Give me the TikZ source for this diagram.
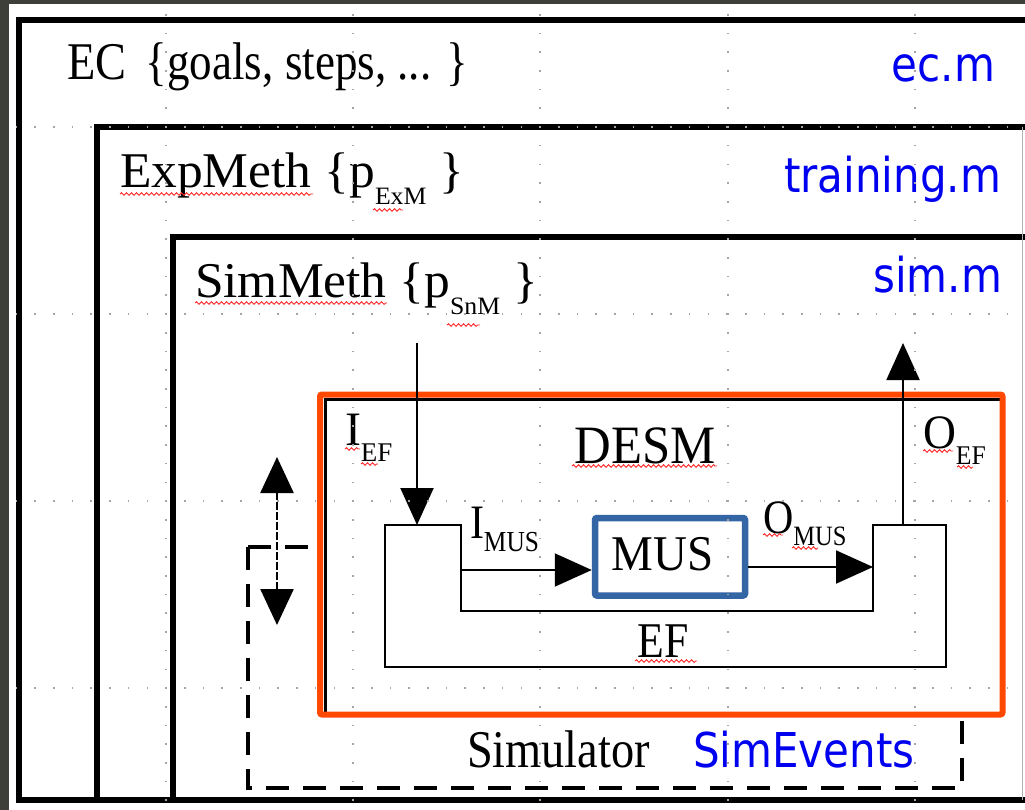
\documentclass[tikz,border=0pt]{standalone}
\usepackage{fontspec}
\setmainfont{Liberation Serif}
\newfontfamily\dv{DejaVu Sans}
\usetikzlibrary{arrows.meta,decorations.pathmorphing}
\definecolor{bgdark}{RGB}{62,63,56}
\definecolor{desmorange}{RGB}{255,72,0}
\definecolor{musblue}{RGB}{52,101,164}
\definecolor{griddot}{RGB}{165,165,165}
\definecolor{txtblue}{RGB}{0,0,240}
\newcommand{\hs}[1]{\scalebox{0.875}[1]{#1}}
\newcommand{\hsx}[2]{\scalebox{#1}[1]{#2}}
\newcommand{\fs}[1]{\fontsize{#1}{#1}\selectfont}
\newcommand{\lowsub}[3][16.5pt]{\raisebox{-#1}{\fs{#2}#3}}
\tikzset{
  frame/.style={draw=black, line width=5.2pt},
  simdash/.style={draw=black, line width=3.3pt, dash pattern=on 23pt off 14pt},
  conn/.style={draw=black, line width=2pt, -{Triangle[length=37pt,width=33pt]}},
  dblconn/.style={draw=black, line width=2.5pt, dash pattern=on 8pt off 2pt,
    {Triangle[length=36pt,width=33pt]}-{Triangle[length=36pt,width=33pt]}},
  txt/.style={inner sep=0pt, outer sep=0pt},
  bluetxt/.style={txt, text=txtblue},
  squig/.style={draw=red!85, line width=0.9pt, decorate,
    decoration={snake, segment length=5pt, amplitude=1.3pt}},
}
\begin{document}
\begin{tikzpicture}[x=1pt,y=-1pt]
\useasboundingbox (0,0) rectangle (1025,810);
\fill[bgdark] (0,0) rectangle (1025,810);
\fill[white] (9,4) rectangle (1025,810);
\begin{scope}
\clip (9,4) rectangle (1025,810);
% nested frames
\draw[frame] (19,20) rectangle (1045,800);
\draw[frame] (97,127) rectangle (1045,800);
\draw[frame] (173,237) rectangle (1045,800);
\draw[gray!60, line width=1pt] (1022,127) -- (1022,800);
% Simulator dashed box
\draw[simdash] (248,547) rectangle (962,788);
% DESM box
\fill[white] (320,395) rectangle (1002,714);
\draw[black, line width=3pt] (325,399) rectangle (1001,713);
\draw[desmorange, line width=6pt, rounded corners=2pt] (320,394.5) rectangle (1002.5,714.5);
% EF shape
\coordinate (efA) at (385,525);
\coordinate (efB) at (461,525);
\coordinate (efC) at (461,611);
\coordinate (efD) at (873,611);
\coordinate (efE) at (873,525);
\coordinate (efF) at (946,525);
\coordinate (efG) at (946,667);
\coordinate (efH) at (385,667);
\draw[black, line width=2pt] (efA) -- (efB) -- (efC) -- (efD) -- (efE) -- (efF) -- (efG) -- (efH) -- cycle;
% MUS box
\node[draw=musblue, line width=6.5pt, rounded corners=2pt, minimum width=150pt, minimum height=77.5pt, inner sep=0pt] (mus) at (670,556.75) {};
\node[txt, anchor=base] (mustext) at (662.5,570) {\hsx{0.94}{\fs{50}MUS}};
% connectors
\coordinate (iefTop) at (417,343);
\coordinate (iefEnd) at (417,525);
\draw[conn] (iefTop) -- (iefEnd);
\coordinate (oefStart) at (903,525);
\coordinate (oefTop) at (903,343);
\draw[conn] (oefStart) -- (oefTop);
\coordinate (imusStart) at (461,570);
\draw[conn] (imusStart) -- (imusStart -| mus.west);
\coordinate (omusStart) at (748,567);
\coordinate (omusEnd) at (873,567);
\draw[conn] (omusStart) -- (omusEnd);
\coordinate (dblTop) at (277,457);
\coordinate (dblBot) at (277,625);
\draw[dblconn] (dblTop) -- (dblBot);
% texts
\node[txt, anchor=base west] (ectxt) at (67,80) {\fs{53}\hsx{0.875}{EC}\hspace{19.5pt}\hsx{0.85}{\{goals, steps, ... \}}};
\node[bluetxt, anchor=base east] (ecm) at (995,82) {\hs{\dv\fs{48}ec.m}};
\node[txt, anchor=base west] (exptxt) at (120,188) {\hsx{1.03}{\fs{50}ExpMeth \{p\lowsub{25}{ExM} \}}};
\node[bluetxt, anchor=base east] (trainm) at (1001,193) {\hs{\dv\fs{48}training.m}};
\node[txt, anchor=base west] (simtxt) at (195,298) {\hsx{1.03}{\fs{50}SimMeth \{p\lowsub{25}{SnM} \}}};
\node[bluetxt, anchor=base east] (simm) at (1002,292) {\hs{\dv\fs{48}sim.m}};
\node[txt, anchor=base] (desm) at (645,463) {\hsx{0.94}{\fs{54}DESM}};
\node[txt, anchor=base west] (ieflab) at (345,445) {\hsx{1.0}{\fs{48}I\lowsub{27}{EF}}};
\node[txt, anchor=base west] (oeflab) at (923,448) {\hsx{0.95}{\fs{48}O\lowsub{27}{EF}}};
\node[txt, anchor=base west] (imuslab) at (470,538) {\hs{\fs{48}I\lowsub[13pt]{29}{MUS}}};
\node[txt, anchor=base west] (omuslab) at (763,533) {\hs{\fs{48}O\lowsub[12pt]{28}{MUS}}};
\node[txt, anchor=base] (eftxt) at (663,657) {\hs{\fs{50}EF}};
\node[txt, anchor=base west] (simulator) at (467,767) {\hs{\fs{53}Simulator}};
\node[bluetxt, anchor=base west] (simevents) at (693,767) {\hs{\dv\fs{48}SimEvents}};
% spell-check squiggles
\draw[squig] (120,194) -- (313,194);
\draw[squig] (373,210) -- (403,210);
\draw[squig] (195,303) -- (387,303);
\draw[squig] (447,325) -- (480,325);
\draw[squig] (345,449) -- (360,449);
\draw[squig] (361,464) -- (378,464);
\draw[squig] (572,466) -- (717,466);
\draw[squig] (923,451) -- (953,451);
\draw[squig] (957,467) -- (973,467);
\draw[squig] (763,535) -- (783,535);
\draw[squig] (792,548) -- (818,548);
\draw[squig] (635,661) -- (697,661);
% editor grid overlay
\foreach \gx in {166,353,540,728,915} {
  \foreach \k in {-6,...,36} {
    \fill[griddot] ({\gx-0.8},{127+18.7*\k-0.8}) rectangle ++(1.6,1.6);
  }
}
\foreach \gy in {127,314,501,688} {
  \foreach \k in {-8,...,46} {
    \fill[griddot] ({166+18.7*\k-0.8},{\gy-0.8}) rectangle ++(1.6,1.6);
  }
}
\end{scope}
\end{tikzpicture}
\end{document}
